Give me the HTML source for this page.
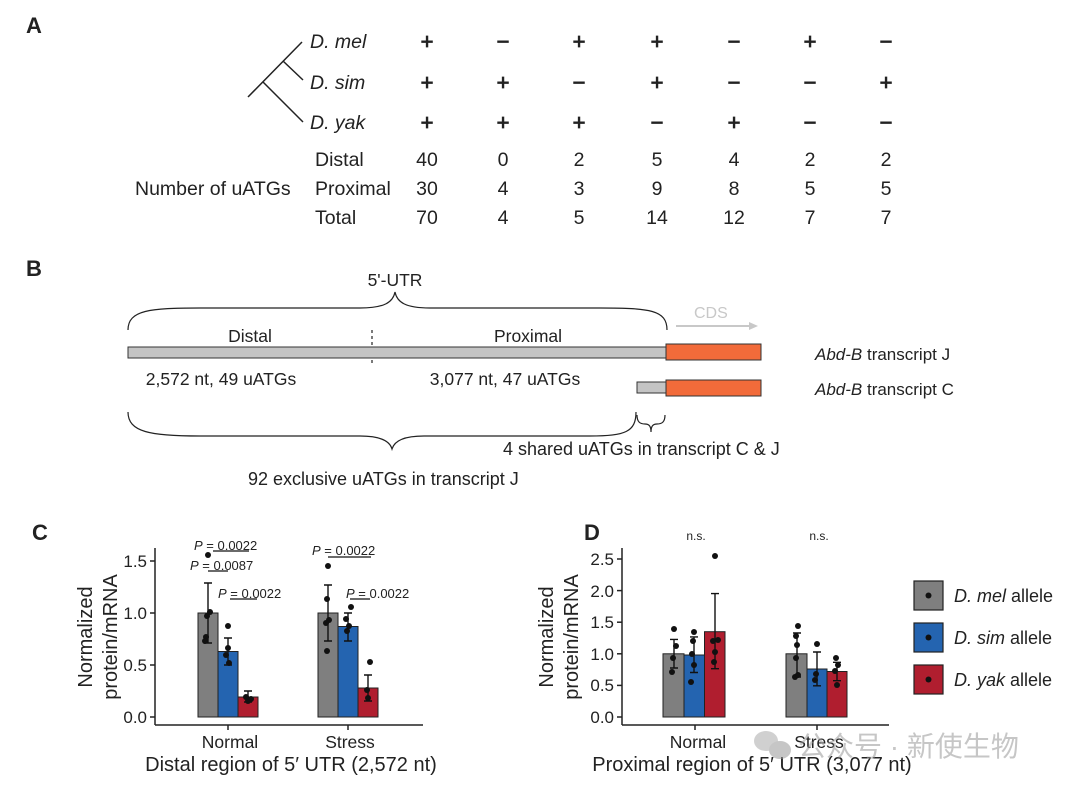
<!DOCTYPE html>
<html><head><meta charset="utf-8"><style>
html,body{margin:0;padding:0;background:#fff}
svg{display:block}
text{font-family:"Liberation Sans",Arial,sans-serif;fill:#222}
</style></head><body>
<svg width="1080" height="790" viewBox="0 0 1080 790" xmlns="http://www.w3.org/2000/svg">
<!-- A -->
<text x="26" y="33" font-size="22" font-weight="bold">A</text>
<g stroke="#222" stroke-width="1.5" fill="none">
<line x1="248" y1="97" x2="302" y2="42"/>
<line x1="283" y1="61" x2="303" y2="80"/>
<line x1="263" y1="82" x2="303" y2="122"/>
</g>
<g font-size="19.5" font-style="italic">
<text x="310" y="48">D. mel</text>
<text x="310" y="89">D. sim</text>
<text x="310" y="129">D. yak</text>
</g>
<g font-size="22" text-anchor="middle" stroke="#222" stroke-width="0.8">
<text x="427" y="49">+</text><text x="503" y="49">−</text><text x="579" y="49">+</text><text x="657" y="49">+</text><text x="734" y="49">−</text><text x="810" y="49">+</text><text x="886" y="49">−</text>
<text x="427" y="90">+</text><text x="503" y="90">+</text><text x="579" y="90">−</text><text x="657" y="90">+</text><text x="734" y="90">−</text><text x="810" y="90">−</text><text x="886" y="90">+</text>
<text x="427" y="130">+</text><text x="503" y="130">+</text><text x="579" y="130">+</text><text x="657" y="130">−</text><text x="734" y="130">+</text><text x="810" y="130">−</text><text x="886" y="130">−</text>
</g>
<g font-size="19.5">
<text x="135" y="195">Number of uATGs</text>
<text x="315" y="166">Distal</text>
<text x="315" y="195">Proximal</text>
<text x="315" y="224">Total</text>
</g>
<g font-size="19.5" text-anchor="middle">
<text x="427" y="166">40</text><text x="503" y="166">0</text><text x="579" y="166">2</text><text x="657" y="166">5</text><text x="734" y="166">4</text><text x="810" y="166">2</text><text x="886" y="166">2</text>
<text x="427" y="195">30</text><text x="503" y="195">4</text><text x="579" y="195">3</text><text x="657" y="195">9</text><text x="734" y="195">8</text><text x="810" y="195">5</text><text x="886" y="195">5</text>
<text x="427" y="224">70</text><text x="503" y="224">4</text><text x="579" y="224">5</text><text x="657" y="224">14</text><text x="734" y="224">12</text><text x="810" y="224">7</text><text x="886" y="224">7</text>
</g>
<!-- B -->
<text x="26" y="276" font-size="22" font-weight="bold">B</text>
<text x="395" y="286" font-size="17.5" text-anchor="middle">5'-UTR</text>
<g stroke="#222" stroke-width="1.2" fill="none">
<path d="M128,330 C128,310 150,308 200,308 L360,308 C385,308 393,302 395,292 C397,302 405,308 430,308 L600,308 C650,308 667,310 667,330"/>
<path d="M128,412 C128,432 150,436 200,436 L360,436 C382,436 390,442 392,449 C394,442 402,436 424,436 L590,436 C625,436 636,432 636,412"/>
<path d="M637,415 C637,422 640,424 645,424 C649,424 651,426 651,432 C651,426 653,424 657,424 C662,424 665,422 665,415"/>
<line x1="372" y1="330" x2="372" y2="366" stroke-dasharray="3,3"/>
</g>
<text x="250" y="342" font-size="17.5" text-anchor="middle">Distal</text>
<text x="528" y="342" font-size="17.5" text-anchor="middle">Proximal</text>
<text x="694" y="318" font-size="16" style="fill:#c8c8c8">CDS</text>
<line x1="676" y1="326" x2="752" y2="326" stroke="#c8c8c8" stroke-width="2"/>
<path d="M758,326 L749,322 L749,330 Z" fill="#c8c8c8"/>
<rect x="128" y="347" width="538" height="11" fill="#c4c4c4" stroke="#333" stroke-width="1"/>
<rect x="666" y="344" width="95" height="16" fill="#f26b3a" stroke="#333" stroke-width="1"/>
<rect x="637" y="382" width="29" height="11" fill="#c4c4c4" stroke="#333" stroke-width="1"/>
<rect x="666" y="380" width="95" height="16" fill="#f26b3a" stroke="#333" stroke-width="1"/>
<text x="221" y="385" font-size="17.5" text-anchor="middle">2,572 nt, 49 uATGs</text>
<text x="505" y="385" font-size="17.5" text-anchor="middle">3,077 nt, 47 uATGs</text>
<text x="815" y="360" font-size="17"><tspan font-style="italic">Abd-B</tspan> transcript J</text>
<text x="815" y="395" font-size="17"><tspan font-style="italic">Abd-B</tspan> transcript C</text>
<text x="503" y="455" font-size="18">4 shared uATGs in transcript C &amp; J</text>
<text x="248" y="485" font-size="18">92 exclusive uATGs in transcript J</text>

<!-- C -->
<text x="32" y="540" font-size="22" font-weight="bold">C</text>
<g font-size="20" text-anchor="middle">
<text transform="translate(92,637) rotate(-90)">Normalized</text>
<text transform="translate(117,637) rotate(-90)">protein/mRNA</text>
</g>
<g stroke="#222" stroke-width="1.5">
<line x1="155" y1="548" x2="155" y2="725"/>
<line x1="155" y1="725" x2="423" y2="725"/>
<line x1="150" y1="717" x2="155" y2="717"/><line x1="150" y1="665" x2="155" y2="665"/><line x1="150" y1="613" x2="155" y2="613"/><line x1="150" y1="561" x2="155" y2="561"/>
<line x1="228" y1="725" x2="228" y2="730"/><line x1="348" y1="725" x2="348" y2="730"/>
</g>
<g font-size="17" text-anchor="end">
<text x="147" y="723">0.0</text><text x="147" y="671">0.5</text><text x="147" y="619">1.0</text><text x="147" y="567">1.5</text>
</g>
<g stroke="#222" stroke-width="1">
<rect x="198" y="613" width="20" height="104" fill="#7f7f7f"/>
<rect x="218" y="651.5" width="20" height="65.5" fill="#2464b0"/>
<rect x="238" y="697" width="20" height="20" fill="#b01e2f"/>
<rect x="318" y="613" width="20" height="104" fill="#7f7f7f"/>
<rect x="338" y="626.5" width="20" height="90.5" fill="#2464b0"/>
<rect x="358" y="688" width="20" height="29" fill="#b01e2f"/>
</g>
<g stroke="#111" stroke-width="1.4" fill="none">
<path d="M208,643V583M204,643h8M204,583h8"/>
<path d="M228,665V638M224,665h8M224,638h8"/>
<path d="M248,702V691M244,702h8M244,691h8"/>
<path d="M328,641V585M324,641h8M324,585h8"/>
<path d="M348,641V613M344,641h8M344,613h8"/>
<path d="M368,701V675M364,701h8M364,675h8"/>
</g>
<g fill="#111">
<circle cx="208" cy="555" r="3"/><circle cx="210" cy="612" r="3"/><circle cx="207" cy="616" r="3"/><circle cx="206" cy="637" r="3"/><circle cx="205" cy="641" r="3"/>
<circle cx="228" cy="626" r="3"/><circle cx="228" cy="648" r="3"/><circle cx="226" cy="655" r="3"/><circle cx="229" cy="663" r="3"/>
<circle cx="246" cy="697" r="3"/><circle cx="251" cy="699" r="3"/><circle cx="248" cy="701" r="3"/>
<circle cx="328" cy="566" r="3"/><circle cx="327" cy="599" r="3"/><circle cx="329" cy="620" r="3"/><circle cx="326" cy="623" r="3"/><circle cx="327" cy="651" r="3"/>
<circle cx="351" cy="607" r="3"/><circle cx="346" cy="619" r="3"/><circle cx="349" cy="626" r="3"/><circle cx="347" cy="631" r="3"/>
<circle cx="370" cy="662" r="3"/><circle cx="367" cy="690" r="3"/><circle cx="368" cy="698" r="3"/>
</g>
<g font-size="13">
<text x="194" y="550"><tspan font-style="italic">P</tspan> = 0.0022</text>
<text x="190" y="570"><tspan font-style="italic">P</tspan> = 0.0087</text>
<text x="218" y="598"><tspan font-style="italic">P</tspan> = 0.0022</text>
<text x="312" y="555"><tspan font-style="italic">P</tspan> = 0.0022</text>
<text x="346" y="598"><tspan font-style="italic">P</tspan> = 0.0022</text>
</g>
<g stroke="#111" stroke-width="1.2">
<line x1="213" y1="551" x2="249" y2="551"/>
<line x1="208" y1="571" x2="228" y2="571"/>
<line x1="230" y1="599" x2="257" y2="599"/>
<line x1="328" y1="557" x2="371" y2="557"/>
<line x1="350" y1="599" x2="370" y2="599"/>
</g>
<text x="230" y="748" font-size="17.5" text-anchor="middle">Normal</text>
<text x="350" y="748" font-size="17.5" text-anchor="middle">Stress</text>
<text x="291" y="771" font-size="20" text-anchor="middle">Distal region of 5′ UTR (2,572 nt)</text>

<!-- D -->
<text x="584" y="540" font-size="22" font-weight="bold">D</text>
<g font-size="20" text-anchor="middle">
<text transform="translate(553,637) rotate(-90)">Normalized</text>
<text transform="translate(578,637) rotate(-90)">protein/mRNA</text>
</g>
<g stroke="#222" stroke-width="1.5">
<line x1="622" y1="548" x2="622" y2="725"/>
<line x1="622" y1="725" x2="889" y2="725"/>
<line x1="617" y1="717" x2="622" y2="717"/><line x1="617" y1="685.4" x2="622" y2="685.4"/><line x1="617" y1="653.8" x2="622" y2="653.8"/><line x1="617" y1="622.2" x2="622" y2="622.2"/><line x1="617" y1="590.6" x2="622" y2="590.6"/><line x1="617" y1="559" x2="622" y2="559"/>
<line x1="695" y1="725" x2="695" y2="730"/><line x1="817" y1="725" x2="817" y2="730"/>
</g>
<g font-size="17" text-anchor="end">
<text x="614" y="723">0.0</text><text x="614" y="691">0.5</text><text x="614" y="660">1.0</text><text x="614" y="628">1.5</text><text x="614" y="597">2.0</text><text x="614" y="565">2.5</text>
</g>
<g stroke="#222" stroke-width="1">
<rect x="663" y="653.8" width="21" height="63.2" fill="#7f7f7f"/>
<rect x="684" y="655" width="20.5" height="62" fill="#2464b0"/>
<rect x="704.5" y="631.7" width="20.5" height="85.3" fill="#b01e2f"/>
<rect x="786" y="653.8" width="21" height="63.2" fill="#7f7f7f"/>
<rect x="807" y="669" width="20" height="48" fill="#2464b0"/>
<rect x="827" y="671.5" width="20" height="45.5" fill="#b01e2f"/>
</g>
<g transform="translate(10,0)">
<g stroke="#111" stroke-width="1.4" fill="none">
<path d="M664,668V639.4M660,668h8M660,639.4h8"/>
<path d="M684,672.5V636.9M680,672.5h8M680,636.9h8"/>
<path d="M705,668.7V593.6M701,668.7h8M701,593.6h8"/>
</g>
<g fill="#111">
<circle cx="664" cy="629" r="3"/><circle cx="666" cy="646" r="3"/><circle cx="663" cy="658" r="3"/><circle cx="662" cy="672" r="3"/>
<circle cx="684" cy="632" r="3"/><circle cx="683" cy="641" r="3"/><circle cx="682" cy="654" r="3"/><circle cx="684" cy="665" r="3"/><circle cx="681" cy="682" r="3"/>
<circle cx="705" cy="556" r="3"/><circle cx="703" cy="641" r="3"/><circle cx="708" cy="640" r="3"/><circle cx="705" cy="652" r="3"/><circle cx="704" cy="662" r="3"/>
</g>
</g>
<g transform="translate(20,0)">
<g stroke="#111" stroke-width="1.4" fill="none">
<path d="M777,677V633M773,677h8M773,633h8"/>
<path d="M797,685.8V652M793,685.8h8M793,652h8"/>
<path d="M817,680.7V662.3M813,680.7h8M813,662.3h8"/>
</g>
<g fill="#111">
<circle cx="778" cy="626" r="3"/><circle cx="776" cy="636" r="3"/><circle cx="777" cy="645" r="3"/><circle cx="776" cy="658" r="3"/><circle cx="775" cy="677" r="3"/><circle cx="778" cy="675" r="3"/>
<circle cx="797" cy="644" r="3"/><circle cx="796" cy="674" r="3"/><circle cx="795" cy="680" r="3"/>
<circle cx="816" cy="658" r="3"/><circle cx="818" cy="665" r="3"/><circle cx="815" cy="671" r="3"/><circle cx="817" cy="685" r="3"/>
</g>
</g>
<text x="696" y="540" font-size="12" text-anchor="middle">n.s.</text>
<text x="819" y="540" font-size="12" text-anchor="middle">n.s.</text>
<text x="698" y="748" font-size="17.5" text-anchor="middle">Normal</text>
<text x="819" y="748" font-size="17.5" text-anchor="middle">Stress</text>
<text x="752" y="771" font-size="20" text-anchor="middle">Proximal region of 5′ UTR (3,077 nt)</text>

<!-- legend -->
<g stroke="#222" stroke-width="1.2">
<rect x="914" y="581" width="29" height="29" fill="#7f7f7f"/>
<rect x="914" y="623" width="29" height="29" fill="#2464b0"/>
<rect x="914" y="665" width="29" height="29" fill="#b01e2f"/>
</g>
<g fill="#111"><circle cx="928.5" cy="595.5" r="3"/><circle cx="928.5" cy="637.5" r="3"/><circle cx="928.5" cy="679.5" r="3"/></g>
<g font-size="18">
<text x="954" y="602"><tspan font-style="italic">D. mel</tspan> allele</text>
<text x="954" y="644"><tspan font-style="italic">D. sim</tspan> allele</text>
<text x="954" y="686"><tspan font-style="italic">D. yak</tspan> allele</text>
</g>

<!-- watermark -->
<g opacity="0.55">
<ellipse cx="766" cy="741" rx="12" ry="10" fill="#aaa"/>
<ellipse cx="780" cy="750" rx="11" ry="9" fill="#999"/>
<text x="798" y="756" font-size="28" style="fill:#999;font-family:'Liberation Sans','Noto Sans CJK SC',sans-serif">公众号 · 新使生物</text>
</g>
</svg>
</body></html>
